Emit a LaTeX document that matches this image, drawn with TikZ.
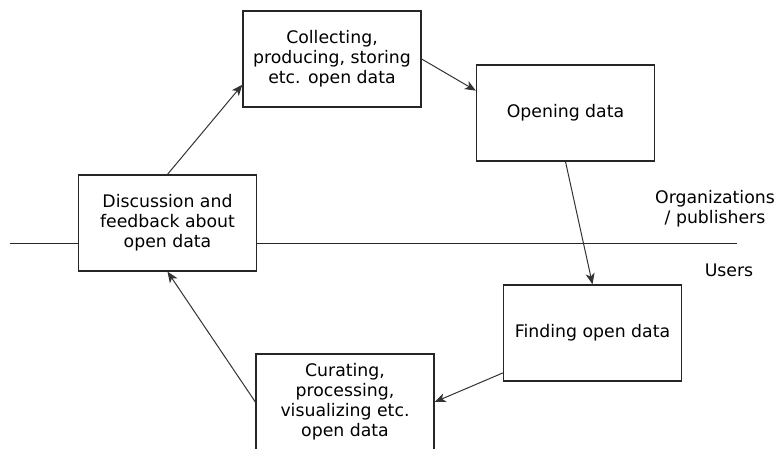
\documentclass[tikz,border=0pt]{standalone}
\usepackage{fontspec}
\setmainfont{DejaVu Sans}
\usepackage{tikz}
\usetikzlibrary{arrows.meta}

\begin{document}
\begin{tikzpicture}[x=1pt, y=-1pt,
    stage/.style = {draw=black!85, line width=1.3pt, fill=white, minimum width=178pt, minimum height=96pt, inner sep=0pt, align=center, font=\fontsize{17.3}{20}\selectfont},
    flow/.style = {draw=black!80, line width=1pt, -{Stealth[length=11pt,width=9pt,inset=3pt]}},
    side/.style = {align=center, font=\fontsize{17.3}{20}\selectfont}]
    \useasboundingbox (0,0) rectangle (776,448);
    \coordinate (L) at (10,243);
    \coordinate (R) at (737,243);
    \draw[line width=1pt, black!85] (L) -- (R);
    \node[stage](coll)at(332,59){Collecting,\\producing, storing\\etc. open data};
    \node[stage](open)at(565.5,113){Opening data};
    \node[stage](find)at(592.5,333){Finding open data};
    \node[stage](cur)at(345,402){Curating,\\processing,\\visualizing etc.\\open data};
    \node[stage](disc)at(167.5,223){Discussion and\\feedback about\\open data};
    \node[side](org)at(715,209){Organizations\\/ publishers};
    \node[side](usr)at(729,270){Users};
    \path[flow] (disc.north) -- (coll.196);
    \path[flow] (coll.east) -- (open.166);
    \path[flow] (open.south) -- (find.north);
    \path[flow] (find.204) -- (cur.east);
    \path[flow] (cur.west) -- (disc.south);
\end{tikzpicture}
\end{document}
